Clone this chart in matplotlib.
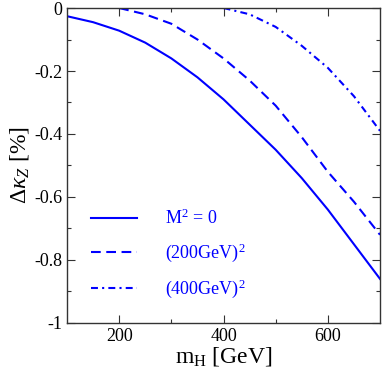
import matplotlib
matplotlib.use("Agg")
import matplotlib.pyplot as plt
from matplotlib.ticker import MultipleLocator, FixedLocator, FuncFormatter

plt.rcParams['font.family'] = ['Liberation Serif', 'DejaVu Serif']
plt.rcParams['mathtext.fontset'] = 'custom'
plt.rcParams['mathtext.rm'] = 'Liberation Serif'
plt.rcParams['mathtext.it'] = 'Liberation Serif:italic'
plt.rcParams['lines.scale_dashes'] = False

# Data
m_solid = [100, 150, 200, 250, 300, 350, 400, 450, 500, 550, 600, 650, 700]
dk_solid = [-0.026, -0.045, -0.072, -0.11, -0.16, -0.22, -0.29, -0.37, -0.45, -0.54, -0.64, -0.75, -0.86]

m_200 = [200, 250, 300, 350, 400, 450, 500, 550, 600, 650, 700]
dk_200 = [0.0, -0.02, -0.05, -0.10, -0.16, -0.23, -0.31, -0.41, -0.52, -0.615, -0.72]

m_400 = [400, 450, 500, 550, 600, 650, 700]
dk_400 = [0.0, -0.02, -0.06, -0.12, -0.19, -0.28, -0.39]

labels = [r'M$^2$ = 0', r'(200GeV)$^2$', r'(400GeV)$^2$']

fig = plt.figure(figsize=(3.82, 3.74), dpi=100)
ax = fig.add_axes([0.1754, 0.1364, 0.8194, 0.8422])

blue = '#0000ff'
ax.plot(m_solid, dk_solid, color=blue, lw=1.5, label=labels[0])
ax.plot(m_200, dk_200, color=blue, lw=1.5, linestyle=(0, (7, 4)), label=labels[1])
ax.plot(m_400, dk_400, color=blue, lw=1.5, linestyle=(0, (5, 3, 1.5, 3)), label=labels[2])

ax.set_xlim(100, 700)
ax.set_ylim(-1, 0)
ax.xaxis.set_major_locator(FixedLocator([200, 400, 600]))
ax.xaxis.set_minor_locator(FixedLocator([300, 500]))
ax.yaxis.set_major_locator(MultipleLocator(0.2))
ax.yaxis.set_minor_locator(MultipleLocator(0.1))
ax.yaxis.set_major_formatter(FuncFormatter(lambda v, p: '%g' % round(v, 2) if abs(v) > 1e-9 else '0'))
ax.tick_params(which='both', direction='in', top=True, right=True, colors='#333333',
               labelcolor='black', labelsize=13)
ax.tick_params(which='major', length=6, width=0.8)
ax.tick_params(which='minor', length=3, width=0.8)
for s in ax.spines.values():
    s.set_color('#333333')
    s.set_linewidth(1.0)

ax.set_xlabel(r'm$_\mathregular{H}$ [GeV]', fontsize=17, labelpad=0)
ax.set_ylabel(r'$\Delta\kappa_Z$ [%]', fontsize=17, labelpad=2)

leg = ax.legend(loc='upper left', bbox_to_anchor=(0.055, 0.385), frameon=False,
                fontsize=13, handlelength=2.5, handletextpad=1.55,
                labelspacing=0.75, borderaxespad=0)
for t in leg.get_texts():
    t.set_color(blue)

fig.savefig('out.png', dpi=100)
